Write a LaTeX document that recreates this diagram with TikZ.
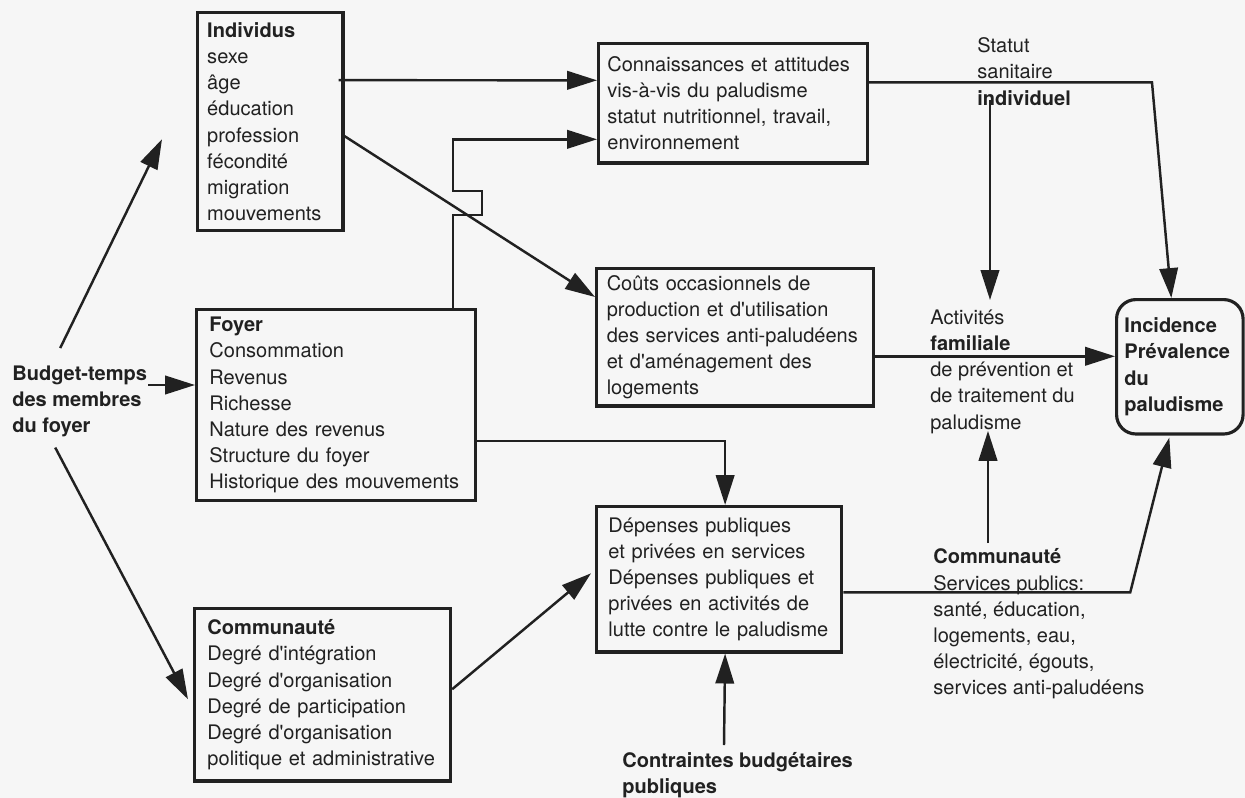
\documentclass[tikz,border=0pt]{standalone}
\usepackage{fontspec}
\setmainfont{TeX Gyre Heros}
\usetikzlibrary{arrows.meta,calc}
\definecolor{ink}{rgb}{0.13,0.13,0.13}
\definecolor{paper}{rgb}{0.965,0.965,0.965}
\newcommand{\ap}{\textquotesingle}
\begin{document}
\begin{tikzpicture}[x=0.02cm, y=-0.02cm, box/.style = {shape=rectangle, draw=ink, line width=1.8pt, anchor=north west, align=left, inner ysep=0pt, text=ink, font=\fontsize{11.4}{14.9}\selectfont}, txt/.style = {anchor=north west, align=left, inner sep=0pt, text=ink, font=\fontsize{11.4}{14.9}\selectfont}, arr/.style = {draw=ink, line width=1.4pt, -{Triangle[length=17pt,width=10.5pt]}}]
	\fill[paper] (0,0) rectangle (1245,798);
	\useasboundingbox (0,0) rectangle (1245,798);
	\node[box, inner xsep=5.5pt, text width=71.8pt, minimum height=124.2pt] (indiv) at (196,11) {\textbf{Individus}\\sexe\\âge\\éducation\\profession\\fécondité\\migration\\mouvements};
	\node[box, inner xsep=5pt, text width=143pt, minimum height=68pt] (conn) at (597,42) {Connaissances et attitudes\\vis-à-vis du paludisme\\statut nutritionnel, travail,\\environnement};
	\node[box, inner xsep=5.8pt, text width=146pt, minimum height=78.2pt] (couts) at (595,267) {Coûts occasionnels de\\production et d\ap utilisation\\des services anti-paludéens\\et d\ap aménagement des\\logements};
	\node[box, inner xsep=7.3pt, text width=144pt, minimum height=108.8pt] (foyer) at (195,308) {\textbf{Foyer}\\Consommation\\Revenus\\Richesse\\Nature des revenus\\Structure du foyer\\Historique des mouvements};
	\node[box, inner xsep=6.75pt, text width=126pt, minimum height=82.8pt] (depenses) at (595,505) {Dépenses publiques\\et privées en services\\Dépenses publiques et\\privées en activités de\\lutte contre le paludisme};
	\node[box, inner xsep=7.35pt, text width=131pt, minimum height=98.1pt] (commun) at (193,607) {\textbf{Communauté}\\Degré d\ap intégration\\Degré d\ap organisation\\Degré de participation\\Degré d\ap organisation\\politique et administrative};
	\node[box, rounded corners=11pt, inner xsep=4.5pt, text width=63pt, minimum height=76.5pt, font=\bfseries\fontsize{11.4}{14.9}\selectfont] (incid) at (1115,298) {Incidence\\Prévalence\\du\\paludisme};
	\node[txt, font=\bfseries\fontsize{11.4}{14.9}\selectfont] (budget) at (12,365.5) {Budget-temps\\des membres\\du foyer};
	\node[txt] (statut) at (977,37.5) {Statut\\sanitaire\\\textbf{individuel}};
	\node[txt] (activ) at (930,309.5) {Activités\\\textbf{familiale}\\de prévention et\\de traitement du\\paludisme};
	\node[txt] (communR) at (933,548.5) {\textbf{Communauté}\\Services publics:\\santé, éducation,\\logements, eau,\\électricité, égouts,\\services anti-paludéens};
	\node[txt, font=\bfseries\fontsize{11.4}{14.9}\selectfont] (contr) at (622,752) {Contraintes budgétaires\\publiques};
	\draw[arr] ($(budget.north)+(-19.5,-17.5)$) -- ($(indiv.west)+(-34,17.5)$);
	\draw[arr] ($(budget.north east)+(1,19.5)$) coordinate (bf) -- (bf -| foyer.west);
	\draw[arr] ($(budget.south)+(-24.5,10)$) -- ($(commun.west)+(-5,4.5)$);
	\draw[arr] ($(indiv.east)+(-6,-41.5)$) -- ($(conn.west)+(0,-23)$);
	\draw[arr] ($(indiv.east)+(0,14.5)$) -- ($(couts.north west)+(0,30)$);
	\draw[arr] ($(foyer.north east)+(-24,0)$) -- ++(0,-93) -- ++(29,0) -- ++(0,-24) -- ++(-29,0) |- ($(conn.west)+(0,36)$);
	\draw[arr] ($(foyer.east)+(0,36)$) -| ($(depenses.north)+(6,0)$);
	\draw[arr] ($(commun.east)+(0,-5.5)$) -- ($(depenses.west)+(-4,-6)$);
	\draw[arr] ($(contr.north west)+(102,-7)$) -- ($(depenses.south)+(6,0)$);
	\draw[arr] ($(conn.east)+(0,-21)$) -- ++(283,0) -- ($(incid.north)+(-8.5,0)$);
	\draw[arr] ($(statut.north west)+(13,62.5)$) -- ($(activ.north west)+(60,-9.5)$);
	\draw[arr] ($(couts.east)+(0,19)$) coordinate (ca) -- (ca -| incid.west);
	\draw[arr] ($(communR.north west)+(55,-5.5)$) -- ($(activ.south west)+(58,-3)$);
	\draw[arr] ($(depenses.east)+(0,13)$) -- ++(287,0) -- ($(incid.south)+(-10.5,2)$);
\end{tikzpicture}
\end{document}
